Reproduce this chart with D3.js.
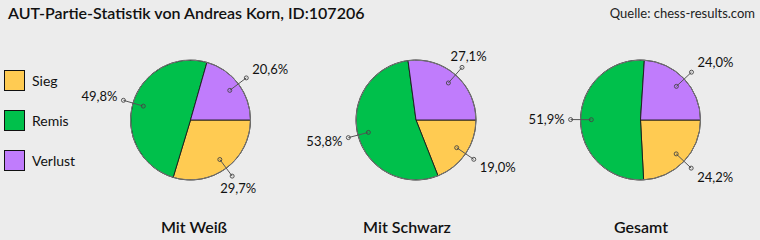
<!DOCTYPE html>
<html>
<head>
<meta charset="utf-8">
<script src="https://cdn.jsdelivr.net/npm/d3@7"></script>
<style>
    body { margin: 0; background: #ececec; }
    svg { display: block; font-family: Lato, "Open Sans", sans-serif; }
</style>
</head>
<body>
<svg id="chart" width="760" height="240"></svg>
<script>
var categories = ["Sieg", "Remis", "Verlust"];
var colors = ["#ffcb52", "#00c04b", "#c07cfc"];
var panels = ["Mit Weiß", "Mit Schwarz", "Gesamt"];
var weiss = [29.7, 49.8, 20.6];
var schwarz = [19.0, 53.8, 27.1];
var gesamt = [24.2, 51.9, 24.0];
var series = [weiss, schwarz, gesamt];

var width = 760;
var height = 240;
var radius = 60;
var centersX = [190.5, 416, 640.5]; //pie middles
var titleX = [194, 407, 641];
var cy = 120;

var svg = d3.select("#chart");

svg.append("text")
    .text("AUT-Partie-Statistik von Andreas Korn, ID:107206")
    .attr("x", 8)
    .attr("y", 19)
    .attr("font-size", 16)
    .attr("font-weight", 600)
    .attr("fill", "#111");

svg.append("text")
    .text("Quelle: chess-results.com")
    .attr("x", 755)
    .attr("y", 18)
    .attr("text-anchor", "end")
    .attr("font-size", 13)
    .attr("fill", "#222");

//legend
var legendY = d3.scalePoint().domain(categories).range([80, 160]);
var legend = svg.selectAll(".legend").data(categories).enter().append("g")
    .attr("transform", function(d){ return "translate(0," + legendY(d) + ")"; });
legend.append("rect")
    .attr("x", 4.5)
    .attr("y", -9.5)
    .attr("width", 20)
    .attr("height", 20)
    .attr("fill", function(d, i){ return colors[i]; })
    .attr("stroke", "#111");
legend.append("text")
    .text(function(d){ return d; })
    .attr("x", 32)
    .attr("y", 1)
    .attr("dy", "0.35em")
    .attr("font-size", 14)
    .attr("fill", "#111");

var pie = d3.pie().sort(null).startAngle(Math.PI / 2).endAngle(Math.PI / 2 + 2 * Math.PI);
var arc = d3.arc().innerRadius(0).outerRadius(radius);
var fmt = function(v){ return v.toFixed(1).replace(".", ",") + "%"; };

for(var p = 0; p < series.length; p++){
    var g = svg.append("g").attr("transform", "translate(" + centersX[p] + "," + cy + ")");
    var arcs = pie(series[p]);

    g.selectAll("path").data(arcs).enter().append("path")
        .attr("d", arc)
        .attr("fill", function(d, i){ return colors[i]; })
        .attr("stroke", "#1a1a1a")
        .attr("stroke-width", 0.9);

    g.append("circle")
        .attr("r", radius)
        .attr("fill", "none")
        .attr("stroke", "#777")
        .attr("stroke-width", 1);

    arcs.forEach(function(d){
        var a = (d.startAngle + d.endAngle) / 2;
        var s = Math.sin(a), c = -Math.cos(a);
        var inner = [s * radius * 0.82, c * radius * 0.82];
        var outer = [s * radius * 1.165, c * radius * 1.165];

        g.append("line")
            .attr("x1", inner[0]).attr("y1", inner[1])
            .attr("x2", outer[0]).attr("y2", outer[1])
            .attr("stroke", "#555")
            .attr("stroke-width", 1);
        [inner, outer].forEach(function(pt){
            g.append("circle")
                .attr("cx", pt[0]).attr("cy", pt[1])
                .attr("r", 2)
                .attr("fill", "none")
                .attr("stroke", "#444")
                .attr("stroke-width", 0.9);
        });

        var lbl = g.append("text")
            .text(fmt(d.data))
            .attr("font-size", 13)
            .attr("fill", "#111")
            .attr("dy", "0.35em");
        if(Math.abs(s) > 0.7){
            lbl.attr("text-anchor", s > 0 ? "start" : "end")
                .attr("x", outer[0] + (s > 0 ? 6 : -6))
                .attr("y", outer[1] + c * 14);
        }else{
            lbl.attr("text-anchor", "middle")
                .attr("x", outer[0] + s * 10)
                .attr("y", outer[1] + c * 15);
        }
    });

    svg.append("text")
        .text(panels[p])
        .attr("x", titleX[p])
        .attr("y", 227)
        .attr("dy", "0.35em")
        .attr("text-anchor", "middle")
        .attr("font-size", 16)
        .attr("font-weight", 600)
        .attr("fill", "#111");
}
</script>
</body>
</html>
